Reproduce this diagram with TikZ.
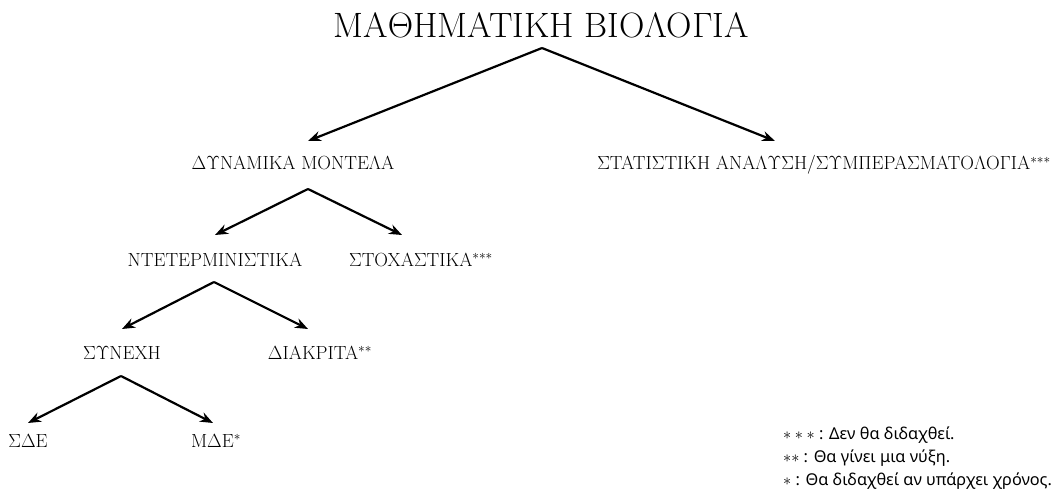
\RequirePackage{fix-cm}
\documentclass[tikz,border=0pt]{standalone}
\usepackage[no-math]{fontspec}
\newfontfamily\notefont{Noto Sans}
\usetikzlibrary{arrows.meta}

\begin{document}
\begin{tikzpicture}[x=1pt,y=1pt]
            % Define styles for the labels and the arrows
            \tikzstyle{titlelabel} = [inner sep=0pt, anchor=base, font=\fontsize{35.2}{42}\selectfont]
            \tikzstyle{treelabel} = [inner sep=0pt, anchor=base, font=\fontsize{19}{23}\selectfont]
            \tikzstyle{notelabel} = [inner sep=0pt, anchor=base west, font=\notefont\fontsize{16.3}{20}\selectfont]
            \tikzstyle{branch} = [-{Stealth[length=13pt,width=10pt]}, line width=2.2pt]

            \useasboundingbox (0,0) rectangle (1052,-497);

            % Title of the tree
            \node [titlelabel] (bio) at (541,-38) {MA$\Theta$HMATIKH BIO$\Lambda$O$\Gamma$IA};

            % Nodes for the branches
            \node [treelabel] (dyn) at (293,-170) {$\Delta\Upsilon$NAMIKA MONTE$\Lambda$A};
            \node [treelabel] (stat) at (824,-170) {$\Sigma$TATI$\Sigma$TIKH ANA$\Lambda\Upsilon\Sigma$H/$\Sigma\Upsilon$M$\Pi$EPA$\Sigma$MATO$\Lambda$O$\Gamma$IA$^{***}$};
            \node [treelabel] (det) at (215,-266) {NTETEPMINI$\Sigma$TIKA};
            \node [treelabel] (stoch) at (421,-266) {$\Sigma$TOXA$\Sigma$TIKA$^{***}$};
            \node [treelabel] (cont) at (122,-359) {$\Sigma\Upsilon$NEXH};
            \node [treelabel] (disc) at (320,-359) {$\Delta$IAKPITA$^{**}$};
            \node [treelabel] (sde) at (28,-447) {$\Sigma\Delta$E};
            \node [treelabel] (mde) at (216,-447) {M$\Delta$E$^{*}$};

            % Points where the arrows leave each parent
            \coordinate (bio-fork) at ([xshift=1pt,yshift=-10pt]bio.base);
            \coordinate (dyn-fork) at ([xshift=15pt,yshift=-19pt]dyn.base);
            \coordinate (det-fork) at ([xshift=-1pt,yshift=-16pt]det.base);
            \coordinate (cont-fork) at ([xshift=-1pt,yshift=-17pt]cont.base);

            % Arrows
            \draw [branch] (bio-fork) -- ([xshift=15pt,yshift=29pt]dyn.base);
            \draw [branch] (bio-fork) -- ([xshift=-49pt,yshift=29pt]stat.base);
            \draw [branch] (dyn-fork) -- ([yshift=31pt]det.base);
            \draw [branch] (dyn-fork) -- ([xshift=-19pt,yshift=31pt]stoch.base);
            \draw [branch] (det-fork) -- ([yshift=30pt]cont.base);
            \draw [branch] (det-fork) -- ([xshift=-12pt,yshift=30pt]disc.base);
            \draw [branch] (cont-fork) -- ([yshift=24pt]sde.base);
            \draw [branch] (cont-fork) -- ([xshift=-3pt,yshift=24pt]mde.base);

            % Notes about the stars
            \node [notelabel] (note3) at (783,-439) {$***$ : Δεν θα διδαχθεί.};
            \node [notelabel] (note2) at (783,-462) {$**$ : Θα γίνει μια νύξη.};
            \node [notelabel] (note1) at (783,-485) {$*$ : Θα διδαχθεί αν υπάρχει χρόνος.};
        \end{tikzpicture}
\end{document}
